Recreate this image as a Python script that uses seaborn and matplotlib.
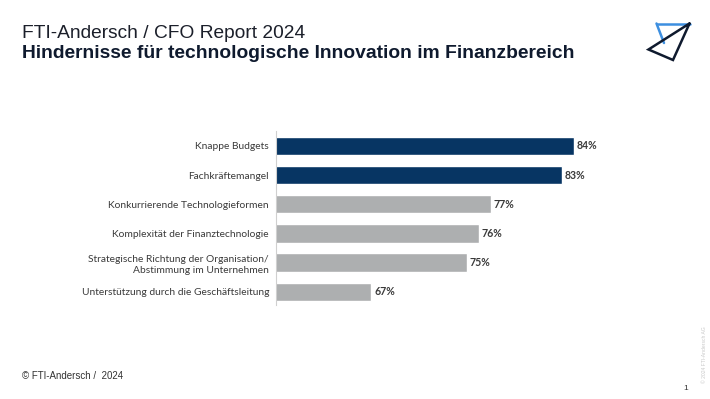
import matplotlib
matplotlib.use("Agg")
import matplotlib.pyplot as plt
import seaborn as sns
import pandas as pd
from matplotlib.lines import Line2D

# Data
categories = [
    "Knappe Budgets",
    "Fachkräftemangel",
    "Konkurrierende Technologieformen",
    "Komplexität der Finanztechnologie",
    "Strategische Richtung der Organisation/\nAbstimmung im Unternehmen",
    "Unterstützung durch die Geschäftsleitung",
]
values = [84, 83, 77, 76, 75, 67]
highlight = [True, True, False, False, False, False]

NAVY = "#073563"
GRAY = "#ADAFB0"
TEXT = "#3a3a3a"

sns.set_theme(style="white")
plt.rcParams["font.family"] = ["Lato", "DejaVu Sans"]

df = pd.DataFrame({"cat": categories, "val": values})
colors = [NAVY if h else GRAY for h in highlight]

fig = plt.figure(figsize=(7.1, 3.99), dpi=100)
ax = fig.add_axes([276 / 710, 94 / 399, 374 / 710, 174 / 399])

sns.barplot(data=df, x="val", y="cat", hue="cat", palette=colors,
            legend=False, width=0.63, ax=ax, saturation=1)

ax.set_xlim(59, 59 + 374 / 11.92)
ax.set_ylim(5.45, -0.51)
ax.set_xlabel("")
ax.set_ylabel("")
ax.set_xticks([])
for s in ["top", "right", "bottom"]:
    ax.spines[s].set_visible(False)
ax.spines["left"].set_color("#d0d0d0")
ax.spines["left"].set_linewidth(0.8)
ax.tick_params(axis="y", length=0, pad=5, labelsize=7.4, labelcolor=TEXT)
for lbl in ax.get_yticklabels():
    lbl.set_linespacing(1.3)

for i, v in enumerate(values):
    ax.text(v + 0.25, i, f"{v}%", va="center", ha="left",
            fontsize=7.6, fontweight="bold", color=TEXT)

# header
fig.text(22 / 710, 1 - 37.5 / 399, "FTI-Andersch / CFO Report 2024",
         family="Liberation Sans", fontsize=13.8, color="#1b1f2a", va="baseline")
fig.text(22 / 710, 1 - 58.5 / 399,
         "Hindernisse für technologische Innovation im Finanzbereich",
         family="Liberation Sans", fontsize=13.9, fontweight="bold",
         color="#0f1a2e", va="baseline")

# footer
fig.text(22 / 710, 1 - 376 / 399, "© FTI-Andersch /  2024",
         family="Liberation Sans", fontsize=7, color="#333333", va="center")
fig.text(686 / 710, 1 - 388 / 399, "1", family="Liberation Sans",
         fontsize=6, color="#333333", va="center", ha="center")
fig.text(705 / 710, 1 - 355 / 399, "© 2024 FTI-Andersch AG",
         family="Liberation Sans", fontsize=3.6, color="#c8c8c8",
         rotation=90, va="center", ha="center")

# logo
def px(x, y):
    return x / 710, 1 - y / 399

tl, tr, lf, bt = px(656.5, 23.5), px(689.5, 23.5), px(648.5, 49.5), px(673, 60)
mid = px(664, 43)
fig.add_artist(Line2D([tl[0], tr[0]], [tl[1], tr[1]], color="#3d8fe0", lw=1.8))
fig.add_artist(Line2D([tl[0], mid[0]], [tl[1], mid[1]], color="#3d8fe0", lw=1.8))
fig.add_artist(Line2D([tr[0], lf[0], bt[0], tr[0]], [tr[1], lf[1], bt[1], tr[1]],
                      color="#0f1a2e", lw=1.8, solid_joinstyle="miter"))

fig.savefig("out.png", dpi=100, facecolor="white")
